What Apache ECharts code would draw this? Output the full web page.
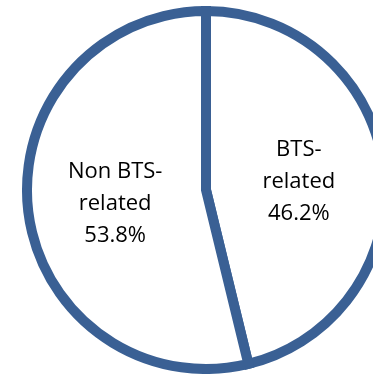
<!DOCTYPE html>
<html>
<head>
<meta charset="utf-8">
<style>
  html, body { margin: 0; padding: 0; background: #ffffff; }
  #chart { width: 373px; height: 374px; }
</style>
<script src="https://cdn.jsdelivr.net/npm/echarts@6/dist/echarts.min.js"></script>
</head>
<body>
<div id="chart"></div>
<script>
// Share of items by relation to BTS (percent)
const categories = ['BTS-\nrelated', 'Non BTS-\nrelated'];
const shares = [46.2, 53.8];

const chart = echarts.init(document.getElementById('chart'), null, { renderer: 'canvas' });

chart.setOption({
  animation: false,
  backgroundColor: '#ffffff',
  series: [{
    type: 'pie',
    center: [206, 190],
    radius: [0, 179],
    startAngle: 90,
    clockwise: true,
    avoidLabelOverlap: false,
    silent: true,
    itemStyle: {
      color: '#ffffff',
      borderColor: '#3A6094',
      borderWidth: 10,
      borderJoin: 'miter'
    },
    label: {
      show: true,
      position: 'inside',
      formatter: p => p.name + '\n' + p.value.toFixed(1) + '%',
      fontFamily: 'Open Sans',
      fontSize: 22,
      lineHeight: 32,
      color: '#000000',
      align: 'center',
      offset: [1, 3]
    },
    labelLine: { show: false },
    data: categories.map((c, i) => ({ name: c, value: shares[i] }))
  }]
});
</script>
</body>
</html>
